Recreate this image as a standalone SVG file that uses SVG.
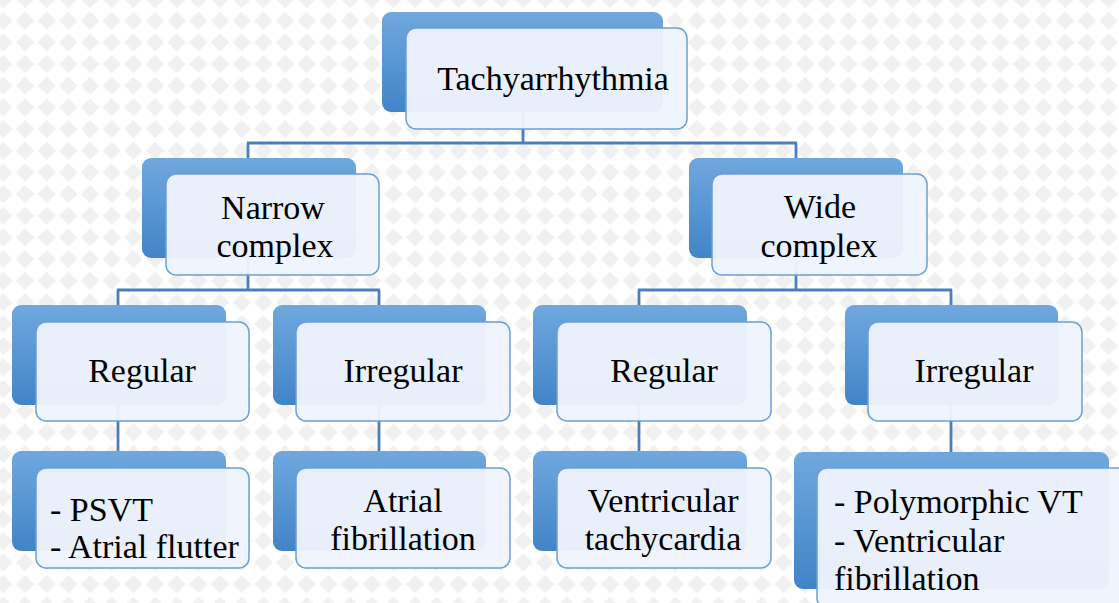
<svg xmlns="http://www.w3.org/2000/svg" width="1119" height="603" viewBox="0 0 1119 603">
<defs>
<pattern id="bgp" patternUnits="userSpaceOnUse" x="14.2" y="9.9" width="21.67" height="21.67">
<rect width="21.67" height="21.67" fill="#ffffff"/>
<polygon points="10.83,1.8 19.9,10.83 10.83,19.9 1.8,10.83" fill="#f0f0f0"/>
</pattern>
<linearGradient id="bk" x1="0" y1="0" x2="0" y2="1">
<stop offset="0" stop-color="#70a8de"/>
<stop offset="1" stop-color="#4184c8"/>
</linearGradient>
</defs>
<style>
.back{fill:url(#bk);}
.front{fill:#eff4fc;fill-opacity:0.96;stroke:#6a9fd8;stroke-width:1.5;}
.t{font-family:"Liberation Serif","Times New Roman",serif;font-size:34px;fill:#000;}
.c{text-anchor:middle;}
.conn line{stroke:#4a7fbc;stroke-width:2.8;}
</style>
<rect width="1119" height="603" fill="url(#bgp)"/>
<g id="connectors" class="conn">
<line x1="523" y1="111" x2="523" y2="143"/>
<line x1="247" y1="143" x2="797" y2="143"/>
<line x1="248" y1="143" x2="248" y2="290"/>
<line x1="796" y1="143" x2="796" y2="290"/>
<line x1="117" y1="290" x2="380" y2="290"/>
<line x1="638" y1="290" x2="952" y2="290"/>
<line x1="118" y1="290" x2="118" y2="451"/>
<line x1="379" y1="290" x2="379" y2="451"/>
<line x1="639" y1="290" x2="639" y2="451"/>
<line x1="951" y1="290" x2="951" y2="452"/>
</g>
<g id="n-tachy">
<rect class="back" x="382" y="12" width="281" height="100" rx="9"/>
<rect class="front" x="406" y="28" width="281" height="101" rx="10"/>
<text class="t c" x="553" y="90">Tachyarrhythmia</text>
</g>
<g id="n-narrow">
<rect class="back" x="142" y="158" width="214" height="100" rx="9"/>
<rect class="front" x="166" y="174" width="213" height="101" rx="10"/>
<text class="t c" x="273" y="219">Narrow</text>
<text class="t c" x="275" y="257">complex</text>
</g>
<g id="n-wide">
<rect class="back" x="689" y="158" width="214" height="100" rx="9"/>
<rect class="front" x="712" y="174" width="215" height="101" rx="10"/>
<text class="t c" x="820" y="218">Wide</text>
<text class="t c" x="819" y="257">complex</text>
</g>
<g id="n-reg-l">
<rect class="back" x="12" y="305" width="214" height="100" rx="9"/>
<rect class="front" x="36" y="322" width="213" height="99" rx="10"/>
<text class="t c" x="142" y="382">Regular</text>
</g>
<g id="n-irr-l">
<rect class="back" x="273" y="305" width="213" height="100" rx="9"/>
<rect class="front" x="296" y="322" width="214" height="99" rx="10"/>
<text class="t c" x="403" y="382">Irregular</text>
</g>
<g id="n-reg-r">
<rect class="back" x="533" y="305" width="214" height="100" rx="9"/>
<rect class="front" x="557" y="322" width="214" height="99" rx="10"/>
<text class="t c" x="664" y="382">Regular</text>
</g>
<g id="n-irr-r">
<rect class="back" x="845" y="305" width="213" height="100" rx="9"/>
<rect class="front" x="868" y="322" width="214" height="99" rx="10"/>
<text class="t c" x="974" y="382">Irregular</text>
</g>
<g id="n-psvt">
<rect class="back" x="12" y="451" width="214" height="100" rx="9"/>
<rect class="front" x="36" y="468" width="213" height="100" rx="10"/>
<text class="t" x="50" y="521">- PSVT</text>
<text class="t" x="50" y="558">- Atrial flutter</text>
</g>
<g id="n-af">
<rect class="back" x="273" y="451" width="213" height="100" rx="9"/>
<rect class="front" x="296" y="468" width="214" height="100" rx="10"/>
<text class="t c" x="403" y="512">Atrial</text>
<text class="t c" x="403" y="550">fibrillation</text>
</g>
<g id="n-vt">
<rect class="back" x="533" y="451" width="214" height="100" rx="9"/>
<rect class="front" x="557" y="468" width="214" height="100" rx="10"/>
<text class="t c" x="663" y="512">Ventricular</text>
<text class="t c" x="663" y="550">tachycardia</text>
</g>
<g id="n-poly">
<rect class="back" x="794" y="452" width="315" height="137" rx="9"/>
<rect class="front" x="817" y="468" width="315" height="140" rx="10"/>
<text class="t" x="834" y="513">- Polymorphic VT</text>
<text class="t" x="834" y="552">- Ventricular</text>
<text class="t" x="834" y="590">fibrillation</text>
</g>
</svg>
